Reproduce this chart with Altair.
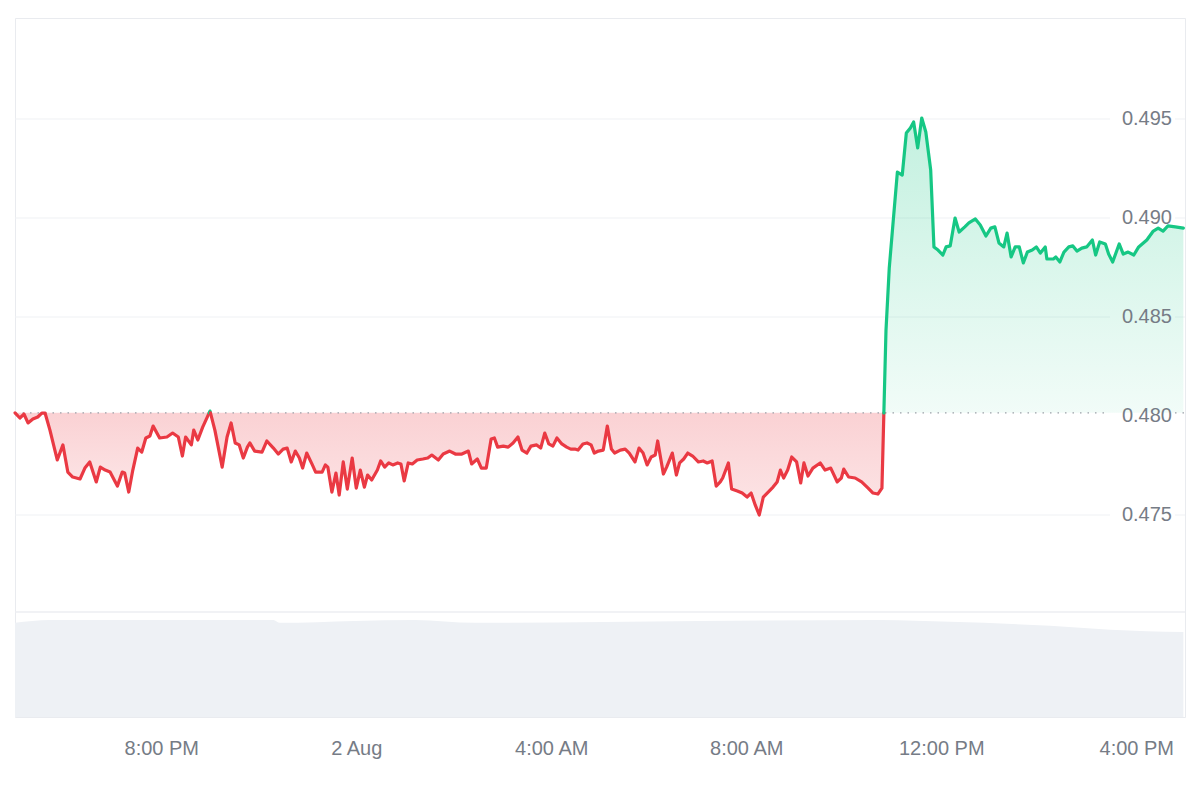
import altair as alt
import pandas as pd

START = pd.Timestamp("2024-08-01T17:00:00")
OPEN_PRICE = 0.48016  # reference (opening) price, dotted line

# minutes after 1 Aug 17:00
minutes = [0,6,11,16,22,28,33,37,43,52,59,65,71,80,86,92,100,105,111,117,126,132,135,140,145,151,156,161,166,170,
           178,187,194,201,206,210,217,220,225,231,240,246,255,261,266,271,276,281,286,289,295,304,310,318,324,330,
           335,340,345,350,354,359,366,370,378,382,385,390,395,399,404,409,415,420,425,430,434,439,446,450,455,460,
           465,471,475,479,484,489,495,502,508,513,521,527,535,542,550,558,562,569,574,580,586,590,594,601,607,613,
           619,624,630,635,642,647,652,657,662,667,673,679,684,689,693,699,704,709,713,718,724,729,734,738,745,751,
           756,763,768,773,778,783,788,791,798,802,809,814,818,823,828,834,841,847,852,858,863,868,871,878,882,889,
           895,901,906,911,916,921,927,933,938,942,946,951,956,962,967,971,976,982,991,997,1004,1012,1017,1020,1026,
           1034,1042,1050,1056,1062,1067,
           1072,1076,1081,1086,1092,1097,1102,1106,1111,1116,1121,1127,1131,1136,1142,1146,1151,1157,1162,1169,1174,
           1182,1188,1195,1201,1206,1211,1217,1221,1226,1231,1236,1241,1246,1252,1257,1262,1268,1270,1278,1281,1286,
           1291,1297,1302,1307,1313,1319,1326,1330,1335,1342,1346,1351,1359,1364,1370,1377,1383,1393,1401,1407,1413,
           1419,1428,1438]

prices = [0.48016,0.47990,0.48010,0.47965,0.47985,0.47995,0.48015,0.48015,0.47929,0.47778,0.47854,0.47717,0.47692,
          0.47682,0.47737,0.47768,0.47667,0.47742,0.47727,0.47717,0.47646,0.47717,0.47712,0.47616,0.47727,0.47838,
          0.47818,0.47889,0.47899,0.47949,0.47889,0.47894,0.47914,0.47894,0.47798,0.47894,0.47854,0.47929,0.47879,
          0.47944,0.48025,0.47929,0.47742,0.47894,0.47965,0.47864,0.47854,0.47788,0.47843,0.47864,0.47823,0.47818,
          0.47874,0.47838,0.47808,0.47833,0.47838,0.47768,0.47823,0.47788,0.47737,0.47813,0.47753,0.47717,0.47717,
          0.47753,0.47742,0.47616,0.47712,0.47601,0.47768,0.47631,0.47788,0.47636,0.47727,0.47641,0.47702,0.47677,
          0.47727,0.47773,0.47742,0.47763,0.47753,0.47763,0.47758,0.47672,0.47763,0.47758,0.47778,0.47783,0.47788,
          0.47803,0.47778,0.47808,0.47823,0.47808,0.47808,0.47823,0.47758,0.47783,0.47737,0.47737,0.47884,0.47889,
          0.47843,0.47848,0.47843,0.47864,0.47894,0.47828,0.47813,0.47848,0.47854,0.47838,0.47914,0.47859,0.47848,
          0.47889,0.47859,0.47843,0.47833,0.47833,0.47828,0.47859,0.47864,0.47854,0.47813,0.47823,0.47828,0.47949,
          0.47833,0.47813,0.47828,0.47833,0.47813,0.47768,0.47838,0.47813,0.47753,0.47793,0.47803,0.47874,0.47707,
          0.47742,0.47813,0.47702,0.47763,0.47783,0.47813,0.47798,0.47768,0.47773,0.47763,0.47773,0.47646,0.47667,
          0.47687,0.47763,0.47631,0.47621,0.47611,0.47591,0.47611,0.47551,0.47500,0.47591,0.47616,0.47641,0.47667,
          0.47727,0.47687,0.47727,0.47793,0.47768,0.47662,0.47763,0.47697,0.47737,0.47763,0.47727,0.47737,0.47667,
          0.47687,0.47732,0.47692,0.47687,0.47667,0.47636,0.47611,0.47606,0.47636,
          0.48434,0.48747,0.48990,0.49232,0.49217,0.49429,0.49455,0.49485,0.49354,0.49505,0.49434,0.49242,0.48854,
          0.48838,0.48813,0.48854,0.48859,0.49000,0.48929,0.48955,0.48975,0.48995,0.48965,0.48909,0.48949,0.48955,
          0.48874,0.48854,0.48924,0.48803,0.48854,0.48854,0.48773,0.48828,0.48838,0.48854,0.48823,0.48854,0.48793,
          0.48793,0.48803,0.48778,0.48828,0.48854,0.48859,0.48833,0.48848,0.48854,0.48889,0.48813,0.48879,0.48869,
          0.48818,0.48778,0.48869,0.48818,0.48828,0.48813,0.48854,0.48889,0.48934,0.48949,0.48934,0.48960,0.48955,
          0.48949]

vol_minutes = [0, 43, 318, 326, 418, 492, 566, 843, 1065, 1151, 1274, 1348, 1438]
vol_values = [0.97, 1.0, 1.0, 0.97, 0.99, 1.0, 0.97, 0.99, 1.0, 0.98, 0.94, 0.90, 0.875]

y_ticks = [0.475, 0.480, 0.485, 0.490, 0.495]
grid_ticks = [0.475, 0.485, 0.490, 0.495]

assert len(minutes) == len(prices), (len(minutes), len(prices))

RED = "#ea3943"
GREEN = "#16c784"
LABEL = "#767c86"
FONT = "Liberation Sans"
FS = 20

# split the series into runs above / below the opening price
rows = []
seg = 0
prev = None
for m, p in zip(minutes, prices):
    side = "up" if p > OPEN_PRICE else "down"
    if prev is not None and side != prev[2]:
        pm, pp, ps = prev
        mc = pm + (OPEN_PRICE - pp) / (p - pp) * (m - pm)
        rows.append({"m": mc, "p": OPEN_PRICE, "side": ps, "seg": seg})
        seg += 1
        rows.append({"m": mc, "p": OPEN_PRICE, "side": side, "seg": seg})
    rows.append({"m": m, "p": p, "side": side, "seg": seg})
    prev = (m, p, side)

df = pd.DataFrame(rows)
df["t"] = START + pd.to_timedelta(df["m"], unit="min")
df["b"] = OPEN_PRICE

vol = pd.DataFrame({"t": START + pd.to_timedelta(vol_minutes, unit="min"), "v": vol_values})

price_scale = alt.Scale(domain=[0.4648, 0.5001], nice=False, zero=False)
vol_scale = alt.Scale(domain=[0, 7.2], nice=False, zero=True)

x_enc = alt.X(
    "t:T",
    title=None,
    scale=alt.Scale(domain=[alt.DateTime(year=2024, month=8, date=1, hours=17),
                            alt.DateTime(year=2024, month=8, date=2, hours=17)], nice=False),
    axis=alt.Axis(
        values=[alt.DateTime(year=2024, month=8, date=1, hours=20),
                alt.DateTime(year=2024, month=8, date=2, hours=0),
                alt.DateTime(year=2024, month=8, date=2, hours=4),
                alt.DateTime(year=2024, month=8, date=2, hours=8),
                alt.DateTime(year=2024, month=8, date=2, hours=12),
                alt.DateTime(year=2024, month=8, date=2, hours=16)],
        labelExpr="hours(datum.value) == 0 ? timeFormat(datum.value, '%-d %b') : timeFormat(datum.value, '%-I:%M %p')",
        grid=False, ticks=False, domain=False,
        labelFont=FONT, labelFontSize=FS, labelColor=LABEL, labelPadding=21,
    ),
)

volume = alt.Chart(vol).mark_area(color="#eef1f5", interpolate="monotone").encode(
    x=x_enc, y=alt.Y("v:Q", scale=vol_scale, axis=None)
)

sep = alt.Chart(pd.DataFrame({"k": [0]})).mark_rule(color="#eceef2", strokeWidth=1.5).encode(
    x=alt.value(0), x2=alt.value(1170), y=alt.value(594)
)

grid_df = pd.DataFrame({"v": grid_ticks})
grid1 = alt.Chart(grid_df).mark_rule(color="#eff1f4", strokeWidth=1).encode(
    y=alt.Y("v:Q", scale=price_scale, axis=None), x=alt.value(0), x2=alt.value(1095)
)
grid2 = alt.Chart(grid_df).mark_rule(color="#eff1f4", strokeWidth=1).encode(
    y=alt.Y("v:Q", scale=price_scale, axis=None), x=alt.value(1160), x2=alt.value(1170)
)

base_df = pd.DataFrame({"v": [OPEN_PRICE]})
dotted1 = alt.Chart(base_df).mark_rule(color="#9aa0a8", strokeWidth=1.2, strokeDash=[1.5, 6]).encode(
    y=alt.Y("v:Q", scale=price_scale, axis=None), x=alt.value(0), x2=alt.value(1095)
)
dotted2 = alt.Chart(base_df).mark_rule(color="#9aa0a8", strokeWidth=1.2, strokeDash=[1.5, 6]).encode(
    y=alt.Y("v:Q", scale=price_scale, axis=None), x=alt.value(1160), x2=alt.value(1170)
)

area_red = alt.Chart(df).transform_filter(alt.datum.side == "down").mark_area(
    color=alt.Gradient(gradient="linear", x1=0, x2=0, y1=0, y2=1,
                       stops=[alt.GradientStop(color="rgba(234,57,67,0.23)", offset=0),
                              alt.GradientStop(color="rgba(234,57,67,0.13)", offset=1)])
).encode(
    x=x_enc, y=alt.Y("p:Q", scale=price_scale, axis=None), y2="b:Q", detail="seg:N"
)

area_green = alt.Chart(df).transform_filter(alt.datum.side == "up").mark_area(
    color=alt.Gradient(gradient="linear", x1=0, x2=0, y1=0, y2=1,
                       stops=[alt.GradientStop(color="rgba(22,199,132,0.26)", offset=0),
                              alt.GradientStop(color="rgba(22,199,132,0.06)", offset=1)])
).encode(
    x=x_enc, y=alt.Y("p:Q", scale=price_scale, axis=None), y2="b:Q", detail="seg:N"
)

line = alt.Chart(df).mark_line(strokeWidth=3.2, strokeJoin="round", strokeCap="round").encode(
    x=x_enc,
    y=alt.Y("p:Q", scale=price_scale, axis=None),
    color=alt.Color("side:N", scale=alt.Scale(domain=["down", "up"], range=[RED, GREEN]), legend=None),
    detail="seg:N",
)

labels = alt.Chart(pd.DataFrame({"v": y_ticks})).mark_text(
    align="right", baseline="middle", font=FONT, fontSize=FS, color=LABEL
).encode(
    x=alt.value(1157), y=alt.Y("v:Q", scale=price_scale, axis=None), text=alt.Text("v:Q", format=".3f")
)

chart = alt.layer(
    volume, sep, grid1, grid2, area_red, area_green, dotted1, dotted2, line, labels
).resolve_scale(y="independent").properties(
    width=1170, height=699,
    padding={"left": 15, "top": 18, "right": 15, "bottom": 83},
    autosize=alt.AutoSizeParams(type="none"),
    background="white",
).configure_view(stroke="#e9ebef", strokeWidth=1)

chart.save("out.html", embed_options={"renderer": "svg", "actions": False})
